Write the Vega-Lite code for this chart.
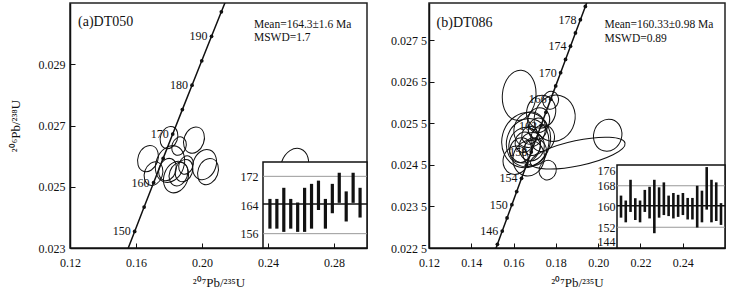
{
  "$schema": "https://vega.github.io/schema/vega-lite/v6.json",
  "background": "white",
  "padding": {"left": 8, "top": 2, "right": 8, "bottom": 0},
  "spacing": 14,
  "config": {
    "font": "Liberation Serif",
    "view": {"stroke": "#222", "strokeWidth": 1.5},
    "axis": {"labelFont": "Liberation Serif", "titleFont": "Liberation Serif", "labelColor": "#111", "titleColor": "#111", "labelFontSize": 12, "titleFontSize": 13, "titleFontWeight": "normal", "domainColor": "#111", "tickColor": "#111", "grid": false, "labelOverlap": false, "labelFlush": false, "labelBound": false},
    "text": {"font": "Liberation Serif"}
  },
  "datasets": {
    "concA": [
      {"t":145,"x":0.153503,"y":0.022748},{"t":150,"x":0.159197,"y":0.023542},{"t":155,"x":0.164919,"y":0.024336},
      {"t":160,"x":0.170670,"y":0.025131},{"t":165,"x":0.176449,"y":0.025926},{"t":170,"x":0.182256,"y":0.026722},
      {"t":175,"x":0.188092,"y":0.027519},{"t":180,"x":0.193957,"y":0.028316},{"t":185,"x":0.199851,"y":0.029114},
      {"t":190,"x":0.205774,"y":0.029912},{"t":195,"x":0.211726,"y":0.030712},{"t":200,"x":0.217708,"y":0.031511}
    ],
    "concB": [
      {"t":142,"x":0.150100,"y":0.022272},{"t":144,"x":0.152367,"y":0.022589},{"t":146,"x":0.154639,"y":0.022907},
      {"t":148,"x":0.156916,"y":0.023224},{"t":150,"x":0.159197,"y":0.023542},{"t":152,"x":0.161482,"y":0.023859},
      {"t":154,"x":0.163773,"y":0.024177},{"t":156,"x":0.166067,"y":0.024495},{"t":158,"x":0.168366,"y":0.024813},
      {"t":160,"x":0.170670,"y":0.025131},{"t":162,"x":0.172978,"y":0.025449},{"t":164,"x":0.175291,"y":0.025767},
      {"t":166,"x":0.177608,"y":0.026085},{"t":168,"x":0.179930,"y":0.026404},{"t":170,"x":0.182256,"y":0.026722},
      {"t":172,"x":0.184587,"y":0.027041},{"t":174,"x":0.186923,"y":0.027359},{"t":176,"x":0.189263,"y":0.027678},
      {"t":178,"x":0.191608,"y":0.027997},{"t":180,"x":0.193957,"y":0.028316},{"t":182,"x":0.196311,"y":0.028635}
    ],
    "ellA": [
      {"s":1,"x":0.18000,"y":0.026605,"sx":0.00515},{"s":2,"x":0.19515,"y":0.026524,"sx":0.00606},
      {"s":3,"x":0.18606,"y":0.026328,"sx":0.00424},{"s":4,"x":0.16727,"y":0.025920,"sx":0.00606},
      {"s":5,"x":0.17061,"y":0.025431,"sx":0.00545},{"s":6,"x":0.18061,"y":0.025741,"sx":0.00848},
      {"s":7,"x":0.17909,"y":0.025561,"sx":0.00515},{"s":8,"x":0.18576,"y":0.025414,"sx":0.00545},
      {"s":9,"x":0.18909,"y":0.025528,"sx":0.00515},{"s":10,"x":0.20152,"y":0.025724,"sx":0.00697},
      {"s":11,"x":0.20364,"y":0.025496,"sx":0.00606},{"s":12,"x":0.19030,"y":0.025708,"sx":0.00424},
      {"s":13,"x":0.25606,"y":0.025675,"sx":0.00818},{"s":14,"x":0.18424,"y":0.025316,"sx":0.00727}
    ],
    "ellB": [
      {"s":1,"x":0.16264,"y":0.026178,"sx":0.01017},{"s":2,"x":0.17944,"y":0.025625,"sx":0.01230},
      {"s":3,"x":0.20452,"y":0.025216,"sx":0.00852},{"s":4,"x":0.19033,"y":0.024784,"sx":0.02933},
      {"s":5,"x":0.16666,"y":0.025036,"sx":0.01278},{"s":6,"x":0.16524,"y":0.024976,"sx":0.00947},
      {"s":7,"x":0.16761,"y":0.025349,"sx":0.00947},{"s":8,"x":0.17305,"y":0.025781,"sx":0.00876},
      {"s":9,"x":0.16856,"y":0.024940,"sx":0.00757},{"s":10,"x":0.16761,"y":0.025216,"sx":0.00473},
      {"s":11,"x":0.16903,"y":0.024940,"sx":0.00473},{"s":12,"x":0.16501,"y":0.025048,"sx":0.00544},
      {"s":13,"x":0.17140,"y":0.025373,"sx":0.00568},{"s":14,"x":0.17613,"y":0.024375,"sx":0.00520},
      {"s":15,"x":0.16595,"y":0.025096,"sx":0.01466},{"s":16,"x":0.16335,"y":0.024856,"sx":0.00663},
      {"s":17,"x":0.16998,"y":0.024808,"sx":0.00710},{"s":18,"x":0.17376,"y":0.025144,"sx":0.00710},
      {"s":19,"x":0.16098,"y":0.024615,"sx":0.00757},{"s":20,"x":0.17755,"y":0.026058,"sx":0.00473},
      {"s":21,"x":0.16714,"y":0.024663,"sx":0.00947},{"s":22,"x":0.17187,"y":0.025577,"sx":0.00663}
    ],
    "barsA": [
      {"i":1,"lo":157.4,"hi":165.7},{"i":2,"lo":157.4,"hi":165.7},{"i":3,"lo":156.5,"hi":168.8},
      {"i":4,"lo":157.4,"hi":165.7},{"i":5,"lo":156.5,"hi":164.7},{"i":6,"lo":156.5,"hi":168.8},
      {"i":7,"lo":157.4,"hi":169.9},{"i":8,"lo":162.6,"hi":170.8},{"i":9,"lo":157.4,"hi":165.7},
      {"i":10,"lo":161.7,"hi":169.9},{"i":11,"lo":164.6,"hi":173.0},{"i":12,"lo":159.4,"hi":167.8},
      {"i":13,"lo":164.6,"hi":173.0},{"i":14,"lo":160.5,"hi":168.8}
    ],
    "barsB": [
      {"i":1,"lo":155.7,"hi":164.2},{"i":2,"lo":153.9,"hi":162.3},{"i":3,"lo":157.9,"hi":170.3},
      {"i":4,"lo":154.8,"hi":163.2},{"i":5,"lo":153.9,"hi":162.3},{"i":6,"lo":157.9,"hi":166.4},
      {"i":7,"lo":155.4,"hi":167.6},{"i":8,"lo":149.7,"hi":170.3},{"i":9,"lo":155.7,"hi":167.4},
      {"i":10,"lo":156.7,"hi":169.3},{"i":11,"lo":156.3,"hi":164.2},{"i":12,"lo":155.4,"hi":165.2},
      {"i":13,"lo":156.0,"hi":164.5},{"i":14,"lo":156.7,"hi":165.2},{"i":15,"lo":155.0,"hi":163.3},
      {"i":16,"lo":155.0,"hi":163.3},{"i":17,"lo":151.9,"hi":168.0},{"i":18,"lo":153.9,"hi":166.1},
      {"i":19,"lo":158.8,"hi":175.2},{"i":20,"lo":153.9,"hi":170.3},{"i":21,"lo":154.4,"hi":169.3},
      {"i":22,"lo":152.9,"hi":161.3}
    ]
  },
  "hconcat": [
    {
      "width": 297, "height": 245,
      "resolve": {"scale": {"x": "independent", "y": "independent"}, "axis": {"x": "independent", "y": "independent"}},
      "layer": [
        {"layer": [
          {"data": {"name": "ellA"},
           "mark": {"type": "point", "shape": "M1 0C1 0.7456 0.5523 1.35 0 1.35C-0.5523 1.35 -1 0.7456 -1 0C-1 -0.7456 -0.5523 -1.35 0 -1.35C0.5523 -1.35 1 -0.7456 1 0Z", "filled": false, "color": "#111", "strokeWidth": 1, "angle": 20, "opacity": 1},
           "encoding": {
             "x": {"field": "x", "type": "quantitative", "scale": {"domain": [0.12, 0.30], "nice": false, "zero": false},
                   "axis": {"values": [0.12, 0.16, 0.2, 0.24, 0.28], "format": ".2f", "tickSize": -5, "tickWidth": 1, "domainWidth": 1.5, "labelPadding": 14, "title": "²⁰⁷Pb/²³⁵U", "titlePadding": 8, "zindex": 1}},
             "y": {"field": "y", "type": "quantitative", "scale": {"domain": [0.023, 0.031], "nice": false, "zero": false},
                   "axis": {"values": [0.023, 0.025, 0.027, 0.029], "format": ".3f", "tickSize": -5, "tickWidth": 1, "domainWidth": 1.5, "labelPadding": 10, "title": "²⁰⁶Pb/²³⁸U", "titlePadding": 12, "minExtent": 36, "maxExtent": 36, "zindex": 1}},
             "size": {"field": "sx", "type": "quantitative", "scale": {"type": "pow", "exponent": 2, "domain": [0, 0.04], "range": [0, 17424], "nice": false}, "legend": null}
           }},
          {"data": {"name": "concA"}, "mark": {"type": "line", "color": "#111", "strokeWidth": 1.5, "clip": true},
           "encoding": {"x": {"field": "x", "type": "quantitative"}, "y": {"field": "y", "type": "quantitative"}, "order": {"field": "t", "type": "quantitative"}}},
          {"data": {"name": "concA"}, "mark": {"type": "point", "filled": true, "color": "#111", "size": 14, "opacity": 1, "clip": true},
           "encoding": {"x": {"field": "x", "type": "quantitative"}, "y": {"field": "y", "type": "quantitative"}}},
          {"data": {"name": "concA"}, "transform": [{"filter": "datum.t % 10 == 0 && datum.t >= 150 && datum.t <= 190"}],
           "mark": {"type": "text", "align": "right", "baseline": "middle", "dx": -4, "fontSize": 12, "color": "#111"},
           "encoding": {"x": {"field": "x", "type": "quantitative"}, "y": {"field": "y", "type": "quantitative"}, "text": {"field": "t", "type": "quantitative"}}},
          {"data": {"values": [{}]}, "mark": {"type": "text", "text": "(a)DT050", "align": "left", "baseline": "middle", "fontSize": 14, "color": "#111"},
           "encoding": {"x": {"datum": 0.1249}, "y": {"datum": 0.03038}}},
          {"data": {"values": [{}]}, "mark": {"type": "text", "text": "Mean=164.3±1.6 Ma", "align": "left", "baseline": "middle", "fontSize": 11.5, "color": "#111"},
           "encoding": {"x": {"datum": 0.2315}, "y": {"datum": 0.030276}}},
          {"data": {"values": [{}]}, "mark": {"type": "text", "text": "MSWD=1.7", "align": "left", "baseline": "middle", "fontSize": 11.5, "color": "#111"},
           "encoding": {"x": {"datum": 0.2315}, "y": {"datum": 0.02985}}}
        ]},
        {"layer": [
          {"data": {"values": [{}]}, "mark": {"type": "rect", "fill": "white", "stroke": "#111", "strokeWidth": 1.5},
           "encoding": {
             "x": {"datum": 0, "type": "quantitative", "scale": {"domain": [0, 15], "range": [193, 297], "nice": false, "zero": false}, "axis": null},
             "x2": {"datum": 15},
             "y": {"datum": 152, "type": "quantitative", "scale": {"domain": [152, 176], "range": [245, 159], "nice": false, "zero": false},
                   "axis": {"orient": "left", "offset": -193, "values": [156, 164, 172], "ticks": false, "domain": false, "labelPadding": 5, "title": null, "zindex": 1}},
             "y2": {"datum": 176}}},
          {"data": {"values": [{}]}, "mark": {"type": "rule", "color": "#999", "strokeWidth": 1},
           "encoding": {"x": {"datum": 0}, "x2": {"datum": 15}, "y": {"datum": 156}}},
          {"data": {"values": [{}]}, "mark": {"type": "rule", "color": "#999", "strokeWidth": 1},
           "encoding": {"x": {"datum": 0}, "x2": {"datum": 15}, "y": {"datum": 172}}},
          {"data": {"name": "barsA"}, "mark": {"type": "rule", "color": "#111", "strokeWidth": 3.2, "strokeCap": "butt"},
           "encoding": {"x": {"field": "i", "type": "quantitative"}, "y": {"field": "lo", "type": "quantitative"}, "y2": {"field": "hi"}}},
          {"data": {"values": [{}]}, "mark": {"type": "rule", "color": "#111", "strokeWidth": 1.5},
           "encoding": {"x": {"datum": 0}, "x2": {"datum": 15}, "y": {"datum": 164.3}}}
        ]}
      ]
    },
    {
      "width": 296, "height": 245,
      "resolve": {"scale": {"x": "independent", "y": "independent"}, "axis": {"x": "independent", "y": "independent"}},
      "layer": [
        {"layer": [
          {"data": {"name": "ellB"}, "transform": [{"filter": "datum.s != 1 && datum.s != 4"}],
           "mark": {"type": "point", "shape": "M1 0C1 0.6351 0.5523 1.15 0 1.15C-0.5523 1.15 -1 0.6351 -1 0C-1 -0.6351 -0.5523 -1.15 0 -1.15C0.5523 -1.15 1 -0.6351 1 0Z", "filled": false, "color": "#111", "strokeWidth": 1, "angle": 15, "opacity": 1},
           "encoding": {
             "x": {"field": "x", "type": "quantitative", "scale": {"domain": [0.12, 0.26], "nice": false, "zero": false},
                   "axis": {"values": [0.12, 0.14, 0.16, 0.18, 0.2, 0.22, 0.24], "format": ".2f", "tickSize": -5, "tickWidth": 1, "domainWidth": 1.5, "labelPadding": 14, "title": "²⁰⁷Pb/²³⁵U", "titlePadding": 8, "zindex": 1}},
             "y": {"field": "y", "type": "quantitative", "scale": {"domain": [0.0225, 0.0284], "nice": false, "zero": false},
                   "axis": {"values": [0.0225, 0.0235, 0.0245, 0.0255, 0.0265, 0.0275], "labelExpr": "substring(format(datum.value, '.4f'), 0, 5) + ' ' + substring(format(datum.value, '.4f'), 5)", "tickSize": -5, "tickWidth": 1, "domainWidth": 1.5, "labelPadding": 7.5, "title": null, "minExtent": 45, "maxExtent": 45, "zindex": 1}},
             "size": {"field": "sx", "type": "quantitative", "scale": {"type": "pow", "exponent": 2, "domain": [0, 0.04], "range": [0, 28609], "nice": false}, "legend": null}
           }},
          {"data": {"name": "ellB"}, "transform": [{"filter": "datum.s == 1"}],
           "mark": {"type": "point", "shape": "M1 0C1 0.8285 0.5523 1.5 0 1.5C-0.5523 1.5 -1 0.8285 -1 0C-1 -0.8285 -0.5523 -1.5 0 -1.5C0.5523 -1.5 1 -0.8285 1 0Z", "filled": false, "color": "#111", "strokeWidth": 1, "angle": 5, "opacity": 1},
           "encoding": {"x": {"field": "x", "type": "quantitative"}, "y": {"field": "y", "type": "quantitative"}, "size": {"field": "sx", "type": "quantitative"}}},
          {"data": {"name": "ellB"}, "transform": [{"filter": "datum.s == 4"}],
           "mark": {"type": "point", "shape": "M1 0C1 0.1436 0.5523 0.26 0 0.26C-0.5523 0.26 -1 0.1436 -1 0C-1 -0.1436 -0.5523 -0.26 0 -0.26C0.5523 -0.26 1 -0.1436 1 0Z", "filled": false, "color": "#111", "strokeWidth": 1, "angle": -12, "opacity": 1},
           "encoding": {"x": {"field": "x", "type": "quantitative"}, "y": {"field": "y", "type": "quantitative"}, "size": {"field": "sx", "type": "quantitative"}}},
          {"data": {"name": "concB"}, "mark": {"type": "line", "color": "#111", "strokeWidth": 1.5, "clip": true},
           "encoding": {"x": {"field": "x", "type": "quantitative"}, "y": {"field": "y", "type": "quantitative"}, "order": {"field": "t", "type": "quantitative"}}},
          {"data": {"name": "concB"}, "mark": {"type": "point", "filled": true, "color": "#111", "size": 14, "opacity": 1, "clip": true},
           "encoding": {"x": {"field": "x", "type": "quantitative"}, "y": {"field": "y", "type": "quantitative"}}},
          {"data": {"name": "concB"}, "transform": [{"filter": "datum.t % 4 == 2 && datum.t >= 146 && datum.t <= 178"}],
           "mark": {"type": "text", "align": "right", "baseline": "middle", "dx": -4, "fontSize": 12, "color": "#111"},
           "encoding": {"x": {"field": "x", "type": "quantitative"}, "y": {"field": "y", "type": "quantitative"}, "text": {"field": "t", "type": "quantitative"}}},
          {"data": {"values": [{}]}, "mark": {"type": "text", "text": "(b)DT086", "align": "left", "baseline": "middle", "fontSize": 14, "color": "#111"},
           "encoding": {"x": {"datum": 0.1236}, "y": {"datum": 0.027909}}},
          {"data": {"values": [{}]}, "mark": {"type": "text", "text": "Mean=160.33±0.98 Ma", "align": "left", "baseline": "middle", "fontSize": 11.5, "color": "#111"},
           "encoding": {"x": {"datum": 0.20296}, "y": {"datum": 0.02786}}},
          {"data": {"values": [{}]}, "mark": {"type": "text", "text": "MSWD=0.89", "align": "left", "baseline": "middle", "fontSize": 11.5, "color": "#111"},
           "encoding": {"x": {"datum": 0.20296}, "y": {"datum": 0.027545}}}
        ]},
        {"layer": [
          {"data": {"values": [{}]}, "mark": {"type": "rect", "fill": "white", "stroke": "#111", "strokeWidth": 1.5},
           "encoding": {
             "x": {"datum": 0.16, "type": "quantitative", "scale": {"domain": [0.16, 22.84], "range": [188, 296], "nice": false, "zero": false}, "axis": null},
             "x2": {"datum": 22.84},
             "y": {"datum": 144, "type": "quantitative", "scale": {"domain": [144, 176], "range": [245, 162], "nice": false, "zero": false},
                   "axis": {"orient": "left", "offset": -188, "values": [144, 152, 160, 168, 176], "ticks": false, "domain": false, "labelPadding": 2, "labelFlush": true, "title": null, "zindex": 1}},
             "y2": {"datum": 176}}},
          {"data": {"values": [{}]}, "mark": {"type": "rule", "color": "#999", "strokeWidth": 1},
           "encoding": {"x": {"datum": 0.16}, "x2": {"datum": 22.84}, "y": {"datum": 152}}},
          {"data": {"values": [{}]}, "mark": {"type": "rule", "color": "#999", "strokeWidth": 1},
           "encoding": {"x": {"datum": 0.16}, "x2": {"datum": 22.84}, "y": {"datum": 168}}},
          {"data": {"name": "barsB"}, "mark": {"type": "rule", "color": "#111", "strokeWidth": 2.6, "strokeCap": "butt"},
           "encoding": {"x": {"field": "i", "type": "quantitative"}, "y": {"field": "lo", "type": "quantitative"}, "y2": {"field": "hi"}}},
          {"data": {"values": [{}]}, "mark": {"type": "rule", "color": "#111", "strokeWidth": 1.5},
           "encoding": {"x": {"datum": 0.16}, "x2": {"datum": 22.84}, "y": {"datum": 160.33}}}
        ]}
      ]
    }
  ]
}
